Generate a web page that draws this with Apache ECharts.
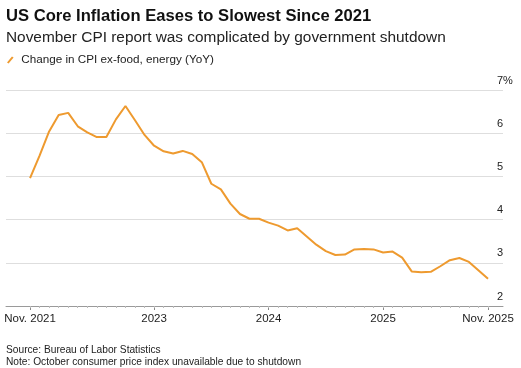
<!DOCTYPE html>
<html><head><meta charset="utf-8">
<script src="https://cdn.jsdelivr.net/npm/echarts@6/dist/echarts.min.js"></script>
<style>html,body{margin:0;padding:0;background:#fff}#c{width:521px;height:368px}</style>
</head><body><div id="c"></div>
<script>
const months = ['Nov 2021','Dec 2021',
  'Jan 2022','Feb 2022','Mar 2022','Apr 2022','May 2022','Jun 2022','Jul 2022','Aug 2022','Sep 2022','Oct 2022','Nov 2022','Dec 2022',
  'Jan 2023','Feb 2023','Mar 2023','Apr 2023','May 2023','Jun 2023','Jul 2023','Aug 2023','Sep 2023','Oct 2023','Nov 2023','Dec 2023',
  'Jan 2024','Feb 2024','Mar 2024','Apr 2024','May 2024','Jun 2024','Jul 2024','Aug 2024','Sep 2024','Oct 2024','Nov 2024','Dec 2024',
  'Jan 2025','Feb 2025','Mar 2025','Apr 2025','May 2025','Jun 2025','Jul 2025','Aug 2025','Sep 2025','Oct 2025','Nov 2025'];
const coreCpiYoY = [4.96,5.48,
  6.04,6.42,6.47,6.16,6.02,5.91,5.91,6.32,6.63,6.30,5.96,5.71,
  5.58,5.53,5.59,5.52,5.33,4.83,4.70,4.37,4.13,4.02,4.02,3.93,
  3.86,3.75,3.80,3.61,3.42,3.27,3.18,3.19,3.31,3.32,3.31,3.24,
  3.26,3.12,2.80,2.78,2.79,2.92,3.06,3.11,3.02,null,2.63];
const xTickIndex = [0,13,25,37,48];
const xTickLabels = ['Nov. 2021','2023','2024','2025','Nov. 2025'];
const yMin = 2, yMax = 7, yStep = 1;
const seriesName = 'Change in CPI ex-food, energy (YoY)';
const titleText = 'US Core Inflation Eases to Slowest Since 2021';
const subtitleText = 'November CPI report was complicated by government shutdown';
const sourceText = 'Source: Bureau of Labor Statistics';
const noteText = 'Note: October consumer price index unavailable due to shutdown';

const FONT = '"Liberation Sans", Arial, Helvetica, sans-serif';
const ORANGE = '#EE9A2F';
const monthIdx = months.map((m, i) => i);
const chart = echarts.init(document.getElementById('c'), null, {renderer: 'canvas'});
chart.setOption({
  animation: false,
  backgroundColor: '#fff',
  textStyle: {fontFamily: FONT},
  grid: {left: 6, right: 18, top: 90, bottom: 62},
  legend: {
    left: 7, top: 53, padding: 0, itemWidth: 8, itemHeight: 7, itemGap: 10,
    icon: 'path://M0,9 L7.5,0 L10,1.6 L2.4,10.6 Z',
    textStyle: {fontFamily: FONT, fontSize: 11.7, color: '#222', lineHeight: 14, padding: [0, 0, 0, 2]},
    data: [{name: seriesName, itemStyle: {color: ORANGE}}]
  },
  xAxis: [{
    type: 'value', min: -2.52, max: 49.57, position: 'bottom',
    axisLine: {show: true, lineStyle: {color: '#9a9a9a', width: 1}},
    axisTick: {show: true, customValues: xTickIndex, length: 4, lineStyle: {color: '#888'}},
    axisLabel: {customValues: xTickIndex, margin: 7, fontSize: 11.5, color: '#222', fontFamily: FONT,
      formatter: v => xTickLabels[xTickIndex.indexOf(Math.round(v))] || ''},
    splitLine: {show: false}
  }, {
    type: 'value', min: -2.52, max: 49.57, position: 'bottom',
    axisLine: {show: false},
    axisTick: {show: true, customValues: monthIdx, length: 2, lineStyle: {color: '#bbb'}},
    axisLabel: {show: false},
    splitLine: {show: false}
  }],
  yAxis: {
    type: 'value', position: 'right', min: yMin, max: yMax, interval: yStep,
    axisLine: {show: false}, axisTick: {show: false},
    splitLine: {show: true, lineStyle: {color: '#dedede', width: 1}},
    axisLabel: {inside: true, margin: 6, align: 'left', verticalAlign: 'bottom', padding: [0, 0, 4, 0],
      fontSize: 11, color: '#222', fontFamily: FONT,
      formatter: v => v === yMax ? v + '%' : String(v)}
  },
  series: [{
    name: seriesName, type: 'line', xAxisIndex: 0,
    data: coreCpiYoY.map((v, i) => [i, v]),
    connectNulls: true, showSymbol: false, symbol: 'none',
    lineStyle: {color: ORANGE, width: 2}, itemStyle: {color: ORANGE}
  }],
  graphic: [
    {type: 'text', x: 6, y: 16.7, style: {text: titleText, fontSize: 16.6, fontWeight: 'bold', fontFamily: FONT, fill: '#111', verticalAlign: 'middle', textVerticalAlign: 'middle'}},
    {type: 'text', x: 6, y: 38, style: {text: subtitleText, fontSize: 15.4, fontFamily: FONT, fill: '#222', verticalAlign: 'middle', textVerticalAlign: 'middle'}},
    {type: 'text', x: 6, y: 350, style: {text: sourceText, fontSize: 10.2, fontFamily: FONT, fill: '#222', verticalAlign: 'middle', textVerticalAlign: 'middle'}},
    {type: 'text', x: 6, y: 361.7, style: {text: noteText, fontSize: 10.2, fontFamily: FONT, fill: '#222', verticalAlign: 'middle', textVerticalAlign: 'middle'}}
  ]
});
</script></body></html>
